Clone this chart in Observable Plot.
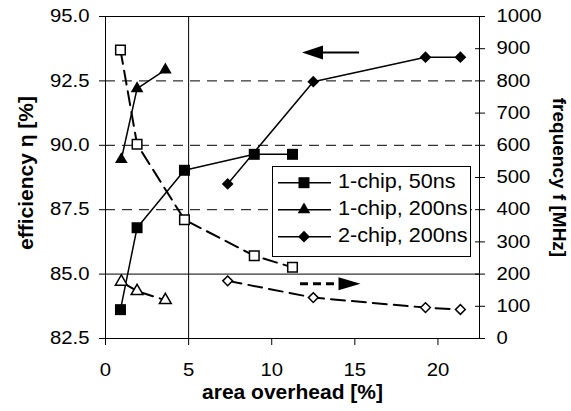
<!DOCTYPE html>
<html><head><meta charset="utf-8">
<script src="https://cdn.jsdelivr.net/npm/d3@7"></script>
<script src="https://cdn.jsdelivr.net/npm/@observablehq/plot@0.6"></script>
<style>html,body{margin:0;padding:0;background:#fff;} #chart{width:571px;height:411px;}</style>
</head><body><div id="chart"></div>
<script>
// ---- data ----
const seriesNames = ["1-chip, 50ns", "1-chip, 200ns", "2-chip, 200ns"];
const overhead50 = [0.9, 1.9, 4.75, 8.95, 11.25];
const eff50 = [83.62, 86.8, 89.03, 89.65, 89.65];
const freq50 = [896, 603, 369, 257, 221];
const overhead200 = [0.95, 1.9, 3.6];
const eff200 = [89.45, 92.2, 92.93];
const freq200 = [176, 147, 119];
const overhead2chip = [7.35, 12.5, 19.25, 21.35];
const eff2chip = [88.5, 92.47, 93.42, 93.42];
const freq2chip = [179, 127, 96, 90];
const effTicks = [82.5, 85, 87.5, 90, 92.5, 95];
const freqTicks = [0, 100, 200, 300, 400, 500, 600, 700, 800, 900, 1000];
const xTicks = [0, 5, 10, 15, 20];
const effGridDashed = [87.5, 90, 92.5];
const effGridSolid = [85];
const xGridSolid = [5];
const arrowLeftX = [11.82, 15.28];      // tip, tail
const arrowLeftEff = [93.6];
const arrowRightX = [11.73, 14.02, 15.34]; // tail, head start, tip
const arrowRightFreq = [170];
const xTitle = "area overhead [%]";
const yTitle = "efficiency η [%]";
const y2Title = "frequency f [MHz]";

// ---- helpers ----
const f2e = d3.scaleLinear([0, 1000], [82.5, 95]);
const e2f = d3.scaleLinear([82.5, 95], [0, 1000]);
const xs = [overhead50, overhead200, overhead2chip];
const effs = [eff50, eff200, eff2chip];
const freqs = [freq50, freq200, freq2chip];
const effRows = seriesNames.flatMap((s, i) => xs[i].map((x, j) => ({s, x, y: effs[i][j]})));
const freqRows = seriesNames.flatMap((s, i) => xs[i].map((x, j) => ({s, x, y: f2e(freqs[i][j])})));
const symbolOf = {"1-chip, 50ns": "square", "1-chip, 200ns": "triangle", "2-chip, 200ns": "diamond2"};
const rFilled = {"1-chip, 50ns": 6.2, "1-chip, 200ns": 4.7, "2-chip, 200ns": 5.3};
const rOpen = {"1-chip, 50ns": 5.4, "1-chip, 200ns": 4.4, "2-chip, 200ns": 4.4};
const headLeft = {draw(c) { c.moveTo(0, 0); c.lineTo(21, -7); c.lineTo(21, 7); c.closePath(); }};
const headRight = {draw(c) { c.moveTo(0, 0); c.lineTo(-22, -6.5); c.lineTo(-22, 6.5); c.closePath(); }};

const dotMarks = seriesNames.flatMap(s => [
  Plot.dot(freqRows.filter(d => d.s === s), {x: "x", y: "y", symbol: symbolOf[s], r: rOpen[s], fill: "white", stroke: "black", strokeWidth: 1.5}),
  Plot.dot(effRows.filter(d => d.s === s), {x: "x", y: "y", symbol: symbolOf[s], r: rFilled[s], fill: "black", stroke: "none"})
]);

const FONT = "'Liberation Sans', Arial, Helvetica, sans-serif";

const svg = Plot.plot({
  width: 571, height: 411,
  marginTop: 16, marginRight: 92, marginBottom: 73, marginLeft: 105,
  style: {fontFamily: FONT, fontSize: "18px", color: "black", background: "white"},
  x: {domain: [0, 22.5]},
  y: {domain: [82.5, 95]},
  marks: [
    Plot.ruleY(effGridDashed, {stroke: "black", strokeWidth: 1, strokeDasharray: "10,7"}),
    Plot.ruleY(effGridSolid, {stroke: "black", strokeWidth: 1}),
    Plot.ruleX(xGridSolid, {stroke: "black", strokeWidth: 1}),
    Plot.line(effRows, {x: "x", y: "y", z: "s", stroke: "black", strokeWidth: 1.5}),
    Plot.line(freqRows, {x: "x", y: "y", z: "s", stroke: "black", strokeWidth: 2, strokeDasharray: "14,7"}),
    ...dotMarks,
    // axis-direction arrows
    Plot.ruleY(arrowLeftEff, {x1: arrowLeftX[0] + 1, x2: arrowLeftX[1], stroke: "black", strokeWidth: 2}),
    Plot.dot(arrowLeftEff, {x: () => arrowLeftX[0], y: d => d, symbol: headLeft, fill: "black", stroke: "none"}),
    Plot.ruleY(arrowRightFreq.map(f2e), {x1: arrowRightX[0], x2: arrowRightX[1], stroke: "black", strokeWidth: 3, strokeDasharray: "8,5"}),
    Plot.dot(arrowRightFreq.map(f2e), {x: () => arrowRightX[2], y: d => d, symbol: headRight, fill: "black", stroke: "none"}),
    Plot.frame({stroke: "black", strokeWidth: 1}),
    Plot.axisY(effTicks, {anchor: "left", tickSize: 6, tickPadding: 10, tickFormat: d => d.toFixed(1), fontSize: 17.5, label: null}),
    Plot.axisY(freqTicks.map(f2e), {anchor: "right", tickSize: 10, dx: -5, tickFormat: () => "", label: null}),
    Plot.axisY(freqTicks.map(f2e), {anchor: "right", tickSize: 0, tickPadding: 17, tickFormat: d => String(Math.round(e2f(d))), fontSize: 17.5, label: null}),
    Plot.axisX(xTicks, {anchor: "bottom", tickSize: 7, tickPadding: 18, fontSize: 17.5, label: null}),
    Plot.text([xTitle], {text: d => d, frameAnchor: "bottom", textAnchor: "middle", dy: 60, fontSize: 21, fontWeight: "bold", ariaLabel: "xtitle"}),
    Plot.text([yTitle], {text: d => d, frameAnchor: "left", textAnchor: "middle", dx: -79, dy: -4.5, rotate: -90, fontSize: 21, fontWeight: "bold", ariaLabel: "ytitle"}),
    Plot.text([y2Title], {text: d => d, frameAnchor: "right", textAnchor: "middle", dx: 80, dy: 0, rotate: 90, fontSize: 19, fontWeight: "bold", ariaLabel: "y2title"})
  ]
});

// horizontal stretch of text to match the reference's wider lettering
function stretch(sel, k) {
  sel.each(function() {
    const t = this.getAttribute("transform") || "";
    this.setAttribute("transform", (t + ` scale(${k},1)`).trim());
  });
}
const S = d3.select(svg);
stretch(S.selectAll("g[aria-label='y-axis tick label'] text, g[aria-label='x-axis tick label'] text"), 1.16);
stretch(S.selectAll("g[aria-label='xtitle'] text"), 1.12);
stretch(S.selectAll("g[aria-label='ytitle'] text"), 1.13);
stretch(S.selectAll("g[aria-label='y2title'] text"), 1.3);

// italic f in the right title
S.selectAll("g[aria-label='y2title'] text").each(function() {
  const t = d3.select(this);
  t.text(null);
  t.append("tspan").text("frequency ");
  t.append("tspan").attr("font-style", "italic").text("f");
  t.append("tspan").text(" [MHz]");
});

// legend box drawn in the plot area
const legendRows = [182.7, 209.7, 236.7];
const lg = S.append("g").attr("aria-label", "legend");
lg.append("rect").attr("x", 272.5).attr("y", 166.5).attr("width", 198).attr("height", 90)
  .attr("fill", "white").attr("stroke", "black").attr("stroke-width", 1);
const d3sym = {square: d3.symbolSquare, triangle: d3.symbolTriangle, diamond2: d3.symbolDiamond2};
seriesNames.forEach((s, i) => {
  const y = legendRows[i];
  lg.append("line").attr("x1", 278).attr("x2", 331).attr("y1", y).attr("y2", y)
    .attr("stroke", "black").attr("stroke-width", 1.5);
  const r = rFilled[s];
  lg.append("path").attr("d", d3.symbol(d3sym[symbolOf[s]], Math.PI * r * r)())
    .attr("transform", `translate(304,${y})`).attr("fill", "black");
  lg.append("text").attr("transform", `translate(338,${y + 5.5}) scale(1.08,1)`)
    .attr("text-anchor", "start")
    .attr("font-size", 20).attr("font-family", FONT).attr("fill", "black").text(s);
});

document.getElementById("chart").appendChild(svg);
</script>
</body></html>
